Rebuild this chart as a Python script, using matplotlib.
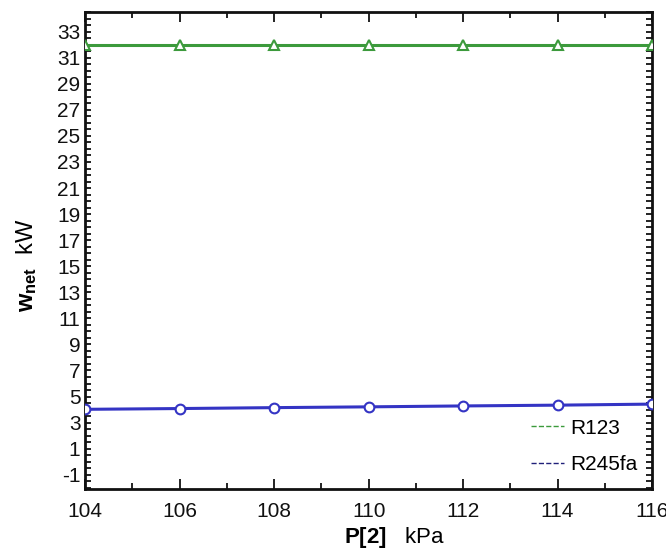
import matplotlib
matplotlib.use("Agg")
import matplotlib.pyplot as plt
from matplotlib.ticker import MultipleLocator

# net work output vs. condenser-side pressure P[2]
p2 = [104, 106, 108, 110, 112, 114, 116]
w_r123 = [32.0, 32.0, 32.0, 32.0, 32.0, 32.0, 32.0]
w_r245fa = [4.02, 4.08, 4.15, 4.21, 4.28, 4.34, 4.42]

plt.rcParams['font.family'] = ['Liberation Sans Narrow', 'Liberation Sans', 'DejaVu Sans']
plt.rcParams['mathtext.fontset'] = 'custom'
plt.rcParams['mathtext.rm'] = 'Liberation Sans'
plt.rcParams['mathtext.bf'] = 'Liberation Sans:bold'
plt.rcParams['axes.unicode_minus'] = False

def main():
    fig = plt.figure(figsize=(6.66, 5.52), dpi=100)
    ax = fig.add_axes([0.128, 0.114, 0.851, 0.864])

    green = '#3c9a3c'
    blue = '#3434c4'

    ax.plot(p2, w_r123, color=green, lw=2.2, zorder=3)
    ax.plot(p2, w_r123, ls='none', marker='^', ms=7, mfc='white', mec=green,
            mew=1.5, zorder=4)
    ax.plot(p2, w_r245fa, color=blue, lw=2.2, zorder=3)
    ax.plot(p2, w_r245fa, ls='none', marker='o', ms=7, mfc='white', mec=blue,
            mew=1.5, zorder=4)

    # legend entries are short dashed lines only
    ax.plot([], [], color=green, lw=1, ls='--', label='R123')
    ax.plot([], [], color='#20207a', lw=1, ls='--', label='R245fa')
    ax.legend(loc='lower right', frameon=False, fontsize=15, handlelength=1.6,
              handletextpad=0.3, labelspacing=0.85, borderaxespad=0.3)

    ax.set_xlim(104, 116)
    ax.set_ylim(-2.1, 34.5)
    ax.xaxis.set_major_locator(MultipleLocator(2))
    ax.xaxis.set_minor_locator(MultipleLocator(1))
    ax.set_yticks(range(-1, 34, 2))
    ax.yaxis.set_minor_locator(MultipleLocator(0.5))
    ax.tick_params(which='both', direction='in', top=True, right=True,
                   labelsize=15, width=1.3, colors='#111111')
    ax.tick_params(which='major', length=7)
    ax.tick_params(which='minor', length=4)
    ax.tick_params(axis='y', which='major', length=4)
    ax.tick_params(axis='x', pad=9)
    for s in ax.spines.values():
        s.set_linewidth(2)
        s.set_color('#111111')

    ax.set_xlabel(r'$\mathbf{P[2]}$   kPa', fontsize=16)
    ax.xaxis.set_label_coords(0.545, -0.075)
    ax.set_ylabel(r'$\mathbf{w_{net}}$  kW', fontsize=17)
    ax.yaxis.set_label_coords(-0.082, 0.47)

    fig.savefig('out.png', dpi=100)

if __name__ == "__main__":
    main()
